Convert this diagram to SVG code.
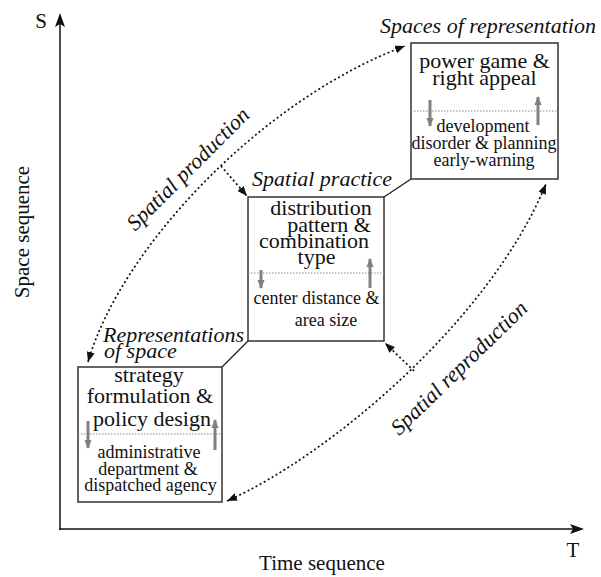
<svg xmlns="http://www.w3.org/2000/svg" width="601" height="577" viewBox="0 0 601 577">
<style>
  text { fill: #111; font-family: "Liberation Serif", serif; }
  .big { font-size: 22px; text-anchor: middle; }
  .small { font-size: 18px; text-anchor: middle; }
  .title { font-size: 22px; font-style: italic; }
  .axislbl { font-size: 21px; }
  .box { fill: #fff; stroke: #333; stroke-width: 1.5; }
  .sep { stroke: #888; stroke-width: 1; stroke-dasharray: 1.5 1.5; fill: none; }
  .garrow { stroke: #808080; stroke-width: 3; fill: none; marker-end: url(#gh); }
  .dot { stroke: #111; stroke-width: 1.7; stroke-dasharray: 2 2.6; fill: none; }
  .link { stroke: #222; stroke-width: 1.3; fill: none; }
</style>
<defs>
  <marker id="ah" viewBox="0 0 10 8" refX="10" refY="4" markerWidth="10" markerHeight="8" markerUnits="userSpaceOnUse" orient="auto-start-reverse">
    <path d="M0,0 L10,4 L0,8 z" fill="#111"/>
  </marker>
  <marker id="gh" viewBox="0 0 10 8" refX="9" refY="4" markerWidth="9" markerHeight="8" markerUnits="userSpaceOnUse" orient="auto">
    <path d="M0,0 L10,4 L0,8 z" fill="#808080"/>
  </marker>
</defs>

<g id="axes">
  <line x1="60" y1="530" x2="60" y2="24" stroke="#111" stroke-width="1.5"/>
  <path d="M60,13 L65,27 L60,24 L55,27 z" fill="#111"/>
  <line x1="59" y1="529" x2="573" y2="529" stroke="#111" stroke-width="1.5"/>
  <path d="M584,529 L570,534 L573,529 L570,524 z" fill="#111"/>
  <text font-family="Liberation Serif" class="axislbl" x="41" y="28" text-anchor="middle">S</text>
  <text font-family="Liberation Serif" class="axislbl" x="573" y="557" text-anchor="middle">T</text>
  <text font-family="Liberation Serif" class="axislbl" x="322" y="570" text-anchor="middle">Time sequence</text>
  <text font-family="Liberation Serif" class="axislbl" x="0" y="0" text-anchor="middle" font-size="19.5px" transform="translate(29,232) rotate(-90)">Space sequence</text>
</g>

<g id="connectors">
  <path class="dot" d="M88,362 C120,250 260,100 405,46" marker-start="url(#ah)" marker-end="url(#ah)"/>
  <path class="dot" d="M221,166 L247,196" marker-end="url(#ah)"/>
  <path class="dot" d="M227,501 C330,455 490,320 546,184" marker-start="url(#ah)" marker-end="url(#ah)"/>
  <path class="dot" d="M414,371 L385,343" marker-end="url(#ah)"/>
  <line class="link" x1="411" y1="179" x2="384" y2="197"/>
  <line class="link" x1="248" y1="341" x2="222" y2="367"/>
  <text font-family="Liberation Serif" class="title" x="0" y="0" text-anchor="middle" transform="translate(193,174) rotate(-45)">Spatial production</text>
  <text font-family="Liberation Serif" class="title" x="0" y="0" text-anchor="middle" transform="translate(464,373) rotate(-44.3)">Spatial reproduction</text>
</g>

<g id="spaces-of-representation">
  <text font-family="Liberation Serif" class="title" x="488" y="33" text-anchor="middle">Spaces of representation</text>
  <rect class="box" x="411" y="43" width="147" height="136"/>
  <text font-family="Liberation Serif" class="big" x="484.5" y="68">power game &amp;</text>
  <text font-family="Liberation Serif" class="big" x="484.5" y="85">right appeal</text>
  <line class="sep" x1="411" y1="111" x2="558" y2="111"/>
  <line class="garrow" x1="430" y1="100" x2="430" y2="126"/>
  <line class="garrow" x1="538" y1="125" x2="538" y2="97"/>
  <text font-family="Liberation Serif" class="small" x="483" y="132">development</text>
  <text font-family="Liberation Serif" class="small" x="484" y="149">disorder &amp; planning</text>
  <text font-family="Liberation Serif" class="small" x="484" y="166">early-warning</text>
</g>

<g id="spatial-practice">
  <text font-family="Liberation Serif" class="title" x="322" y="186" text-anchor="middle">Spatial practice</text>
  <rect class="box" x="248" y="197" width="136" height="144"/>
  <text font-family="Liberation Serif" class="big" x="321" y="215">distribution</text>
  <text font-family="Liberation Serif" class="big" x="329" y="232">pattern &amp;</text>
  <text font-family="Liberation Serif" class="big" x="314" y="248">combination</text>
  <text font-family="Liberation Serif" class="big" x="316.5" y="264">type</text>
  <line class="sep" x1="248" y1="273" x2="384" y2="273"/>
  <line class="garrow" x1="261" y1="270" x2="261" y2="288"/>
  <line class="garrow" x1="370" y1="288" x2="370" y2="259"/>
  <text font-family="Liberation Serif" class="small" x="316.5" y="304">center distance &amp;</text>
  <text font-family="Liberation Serif" class="small" x="326" y="326">area size</text>
</g>

<g id="representations-of-space">
  <text font-family="Liberation Serif" class="title" x="103" y="342" font-size="21.5px">Representations</text>
  <text font-family="Liberation Serif" class="title" x="104" y="358" font-size="21.5px">of space</text>
  <rect class="box" x="78" y="367" width="144" height="135"/>
  <text font-family="Liberation Serif" class="big" x="149" y="382">strategy</text>
  <text font-family="Liberation Serif" class="big" x="150" y="403">formulation &amp;</text>
  <text font-family="Liberation Serif" class="big" x="152" y="426">policy design</text>
  <line class="sep" x1="78" y1="434" x2="222" y2="434"/>
  <line class="garrow" x1="88" y1="421" x2="88" y2="448"/>
  <line class="garrow" x1="215" y1="450" x2="215" y2="420"/>
  <text font-family="Liberation Serif" class="small" x="149" y="458">administrative</text>
  <text font-family="Liberation Serif" class="small" x="148" y="475">department &amp;</text>
  <text font-family="Liberation Serif" class="small" x="150.5" y="491" font-size="19px">dispatched agency</text>
</g>
</svg>
